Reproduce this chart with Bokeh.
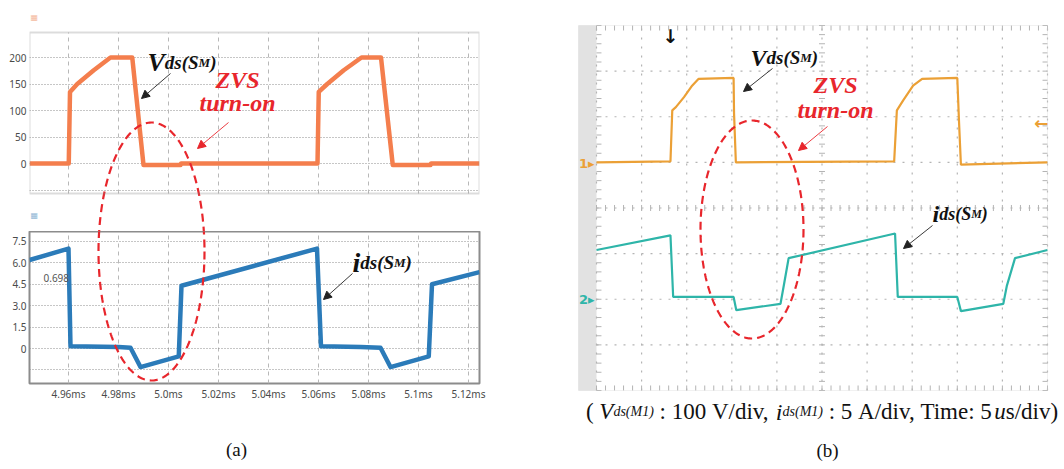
import numpy as np
from bokeh.plotting import figure
from bokeh.layouts import row, column
from bokeh.models import Range1d, FixedTicker, Label, Arrow, NormalHead, BoxAnnotation
from bokeh.embed import file_html
from bokeh.resources import INLINE

# ---------------- data: (a) simulation ----------------
t_vds_a = [4.9444, 4.9601, 4.9606, 4.9635, 4.9701, 4.9768, 4.9855, 4.9900, 5.0048, 5.0050,
           5.0596, 5.0601, 5.0635, 5.0701, 5.0772, 5.0850, 5.0897, 5.1048, 5.1050, 5.1244]
vds_a = [0, 0, 135, 150, 176, 200, 200, -3, -3, 0,
         0, 135, 150, 176, 200, 200, -3, -3, 0, 0]
t_ids_a = [4.9444, 4.9600, 4.9608, 4.9800, 4.9848, 4.9888, 5.0041, 5.0052,
           5.0594, 5.0610, 5.0768, 5.0848, 5.0888, 5.1041, 5.1054, 5.1244]
ids_a = [6.2, 7.0, 0.15, 0.1, 0.05, -1.3, -0.55, 4.4,
         7.0, 0.15, 0.1, 0.05, -1.3, -0.55, 4.5, 5.35]
v_ticks_a = [0, 50, 100, 150, 200]
v_grid_a = [-50, 0, 50, 100, 150, 200]
i_ticks_a = [0, 1.5, 3.0, 4.5, 6.0, 7.5]
i_labels_a = ["0", "1.5", "3.0", "4.5", "6.0", "7.5"]
i_grid_a = [-1.5, 0, 1.5, 3.0, 4.5, 6.0, 7.5]
t_ticks_a = [4.96, 4.98, 5.00, 5.02, 5.04, 5.06, 5.08, 5.10, 5.12]
t_labels_a = ["4.96ms", "4.98ms", "5.0ms", "5.02ms", "5.04ms", "5.06ms", "5.08ms", "5.1ms", "5.12ms"]

# ---------------- data: (b) oscilloscope (us, V, A) ----------------
t_vds_b = [0, 8.2, 8.4, 8.8, 9.7, 10.6, 11.3, 15.2, 15.25, 15.45,
           33.0, 33.3, 34.0, 35.1, 36.1, 40.0, 40.2, 40.4, 50.0]
vds_b = [0, 2, 114, 121, 143, 168, 183, 185, 107, 0,
         2, 114, 136, 168, 183, 185, 85, -5, 0]
t_ids_b = [0, 8.2, 8.5, 15.2, 15.5, 20.4, 20.8, 21.3, 33.1, 33.4, 40.0, 40.4, 45.1, 45.5, 46.4, 50.0]
ids_b = [5.4, 7.0, 0.25, 0.25, -1.2, -0.5, 1.7, 4.5, 7.2, 0.25, 0.25, -1.3, -0.5, 1.5, 4.5, 5.4]
div_t_b = [0, 5, 10, 15, 20, 25, 30, 35, 40, 45, 50]
div_v_b = [-400, -300, -200, -100, 0, 100, 200]

ORANGE_A = "#F47E4D"
BLUE_A = "#2B7BB9"
ORANGE_B = "#EBA036"
TEAL_B = "#2EB5A9"
RED = "#E8262C"
SERIF = "Liberation Serif"
SANS = "Noto Sans"
NB = "\u00a0"

# reference-pixel -> data helpers (for annotations)
def ax_t(px): return 4.96 + (px - 68) / 2500.0
def ay_v(py): return (163 - py) / 0.53
def ay_i(py): return (348 - py) / 14.27
def bx(px): return (px - 596) / 9.02
def by(py): return 300 - (py - 25) / 0.45625
def bi(py): return 30 - (py - 25) / 9.125
def ident(v): return v

BI = {'V': 667, 'd': 500, 's': 389, '(': 333, ')': 333, 'S': 556, 'M': 889, 'i': 278}
IT = {'V': 611, 'd': 500, 's': 389, '(': 333, ')': 333, 'M': 833, '1': 500, 'i': 278, 'u': 500}
RM = {NB: 250, '(': 333, ')': 333, ':': 278, '0': 500, '1': 500, '5': 500, 'V': 722, '/': 278,
      'd': 500, 'i': 278, 'v': 500, ',': 250, 'A': 722, 'T': 611, 'm': 778, 'e': 444, 's': 389, 'u': 500}

def tw(text, size, style):
    table = BI if style == "bold italic" else IT if style == "italic" else RM
    return sum(table.get(c, 500) for c in text) * size / 1000.0

def text_run(p, x_px, base_px, parts, fx, fy, color):
    x = x_px
    for text, size, style in parts:
        text = text.replace(" ", NB)
        p.add_layout(Label(x=fx(x), y=fy(base_px), text=text, text_font=SERIF,
                           text_font_size=f"{size}px", text_font_style=style, text_color=color,
                           text_align="left", text_baseline="alphabetic"))
        x += tw(text, size, style)

def arrow(p, x0, y0, x1, y1, color):
    p.add_layout(Arrow(end=NormalHead(size=8, line_color=color, fill_color=color, line_width=1),
                       x_start=x0, y_start=y0, x_end=x1, y_end=y1, line_color=color, line_width=0.9))

def ellipse_px(cx, cy, a, b):
    th = np.linspace(0, 2 * np.pi, 240)
    return cx + a * np.cos(th), cy + b * np.sin(th)

def base_fig(**kw):
    p = figure(toolbar_location=None, output_backend="svg", **kw)
    p.background_fill_color = "white"
    p.border_fill_color = "white"
    return p

def style_axes(axes):
    for ax in axes:
        ax.axis_line_color = None
        ax.major_tick_line_color = None
        ax.minor_tick_line_color = None
        ax.major_tick_out = 0
        ax.major_label_standoff = 3
        ax.major_label_text_font = SANS
        ax.major_label_text_font_size = "10px"
        ax.major_label_text_color = "#4a4a4a"

# ---------------- (a) top: Vds ----------------
XR = Range1d(ax_t(29), ax_t(479))
A1 = base_fig(width=508, height=231, x_range=XR, y_range=Range1d(ay_v(231), ay_v(0)),
              x_axis_location=None, min_border_left=29, min_border_right=29, min_border_top=0,
              min_border_bottom=0)
A1.outline_line_color = None
A1.xgrid.visible = False
A1.ygrid.ticker = FixedTicker(ticks=v_grid_a)
A1.ygrid.grid_line_color = "#8c8c8c"
A1.ygrid.grid_line_dash = "1 2"
A1.yaxis.ticker = FixedTicker(ticks=v_ticks_a)
style_axes(A1.yaxis)
n = len(t_ticks_a)
A1.segment(x0=t_ticks_a, y0=[ay_v(193)] * n, x1=t_ticks_a, y1=[ay_v(32)] * n,
           line_color="#b8b8b8", line_dash="4 4", line_width=1)
A1.add_layout(BoxAnnotation(left=XR.start, right=XR.end, bottom=ay_v(193), top=ay_v(32),
                            fill_alpha=0, fill_color=None, line_color="#8c8c8c", line_width=2))
A1.line(t_vds_a, vds_a, line_width=4.5, color=ORANGE_A, line_join="round")
ex, ey = ellipse_px(151, 251, 53, 129)
A1.line([ax_t(v) for v in ex], [ay_v(v) for v in ey], line_color=RED, line_width=2.2, line_dash="8 5")
text_run(A1, 147, 62, [("V", 26, "bold italic"), ("ds(S", 19, "bold italic"),
                       ("M", 13, "bold italic"), (")", 19, "bold italic")], ax_t, ay_v, "#111111")
arrow(A1, ax_t(170), ay_v(73), ax_t(141), ay_v(98), "#222222")
A1.add_layout(Label(x=ax_t(237), y=ay_v(92), text="ZVS", text_font=SERIF, text_font_size="24px",
                    text_font_style="bold italic", text_color=RED, text_align="center"))
A1.add_layout(Label(x=ax_t(237), y=ay_v(115), text="turn-on", text_font=SERIF, text_font_size="24px",
                    text_font_style="bold italic", text_color=RED, text_align="center"))
arrow(A1, ax_t(228), ay_v(122), ax_t(197), ay_v(148), RED)
A1.add_layout(Label(x=ax_t(30), y=ay_v(17), text="▦", text_font="DejaVu Sans", text_font_size="8px",
                    text_color="#f4b89c", text_baseline="middle"))
A1.add_layout(Label(x=ax_t(30), y=ay_v(215), text="▦", text_font="DejaVu Sans", text_font_size="8px",
                    text_color="#8fb7d6", text_baseline="middle"))

# ---------------- (a) bottom: ids ----------------
A2 = base_fig(width=508, height=174, x_range=XR, y_range=Range1d(ay_i(383), ay_i(231)),
              min_border_left=29, min_border_right=29, min_border_top=0, min_border_bottom=22)
A2.outline_line_color = "#8c8c8c"
A2.outline_line_width = 2
A2.xgrid.ticker = FixedTicker(ticks=t_ticks_a)
A2.xgrid.grid_line_color = "#b8b8b8"
A2.xgrid.grid_line_dash = "4 4"
A2.ygrid.ticker = FixedTicker(ticks=i_grid_a)
A2.ygrid.grid_line_color = "#8c8c8c"
A2.ygrid.grid_line_dash = "1 2"
A2.yaxis.ticker = FixedTicker(ticks=i_ticks_a)
A2.yaxis.major_label_overrides = dict(zip(i_ticks_a, i_labels_a))
A2.xaxis.ticker = FixedTicker(ticks=t_ticks_a)
A2.xaxis.major_label_overrides = dict(zip(t_ticks_a, t_labels_a))
style_axes(list(A2.yaxis) + list(A2.xaxis))
A2.line(t_ids_a, ids_a, line_width=4.5, color=BLUE_A, line_join="round")
A2.line([ax_t(v) for v in ex], [ay_i(v) for v in ey], line_color=RED, line_width=2.2, line_dash="8 5")
A2.add_layout(Label(x=ax_t(43), y=ay_i(277), text="0.698", text_font=SANS, text_font_size="10px",
                    text_color="#555555", text_baseline="middle"))
text_run(A2, 352, 262, [("i", 28, "bold italic"), ("ds(S", 19, "bold italic"),
                        ("M", 13, "bold italic"), (")", 19, "bold italic")], ax_t, ay_i, "#111111")
arrow(A2, ax_t(352), ay_i(273), ax_t(323), ay_i(299), "#222222")

# caption strip under (a)  (frame aligned with the panels above: 29..479)
CA = base_fig(width=508, height=64, x_range=Range1d(29, 479), y_range=Range1d(469, 405),
              x_axis_location=None, y_axis_location=None,
              min_border_left=29, min_border_right=29, min_border_top=0, min_border_bottom=0)
CA.outline_line_color = None
CA.xgrid.visible = False
CA.ygrid.visible = False
CA.add_layout(Label(x=236, y=459, text="(a)", text_font=SERIF, text_font_size="19px",
                    text_color="#111111", text_align="center"))

# ---------------- (b) oscilloscope: one figure whose frame is the whole right half ----------------
B = base_fig(width=556, height=469, x_range=Range1d(bx(508), bx(1064)), y_range=Range1d(by(469), by(0)),
             x_axis_location=None, y_axis_location=None, min_border_left=0, min_border_right=0,
             min_border_top=0, min_border_bottom=0)
B.extra_y_ranges = {"i": Range1d(bi(469), bi(0))}
B.outline_line_color = None
B.xgrid.visible = False
B.ygrid.visible = False
grid_c = "#b4b4b4"
B.quad(left=[bx(578)], right=[0], bottom=[-500], top=[300], fill_color="#e2e2e2", line_color=None)
B.segment(x0=div_t_b, y0=-500, x1=div_t_b, y1=300, line_color=grid_c, line_dash="2 7", line_width=1.2)
B.segment(x0=0, y0=div_v_b, x1=50, y1=div_v_b, line_color=grid_c, line_dash="2 7", line_width=1.2)
us_minor = np.arange(0, 50.01, 1.0)
v_minor = np.arange(-500, 300.1, 20)
B.segment(x0=us_minor, y0=-100 - 6.6, x1=us_minor, y1=-100 + 6.6, line_color=grid_c)
B.segment(x0=us_minor, y0=-500, x1=us_minor, y1=-500 + 11, line_color=grid_c)
B.segment(x0=us_minor, y0=300 - 11, x1=us_minor, y1=300, line_color=grid_c)
B.segment(x0=25 - 0.33, y0=v_minor, x1=25 + 0.33, y1=v_minor, line_color=grid_c)
B.segment(x0=0, y0=v_minor, x1=0.55, y1=v_minor, line_color=grid_c)
B.segment(x0=50 - 0.55, y0=v_minor, x1=50, y1=v_minor, line_color=grid_c)
B.add_layout(BoxAnnotation(left=bx(578), right=50, bottom=-500, top=300, fill_alpha=0, fill_color=None,
                           line_color="#cfcfcf", line_width=1))
B.line(t_vds_b, vds_b, line_width=2.2, color=ORANGE_B)
B.line(t_ids_b, ids_b, line_width=2.2, color=TEAL_B, y_range_name="i")
bex, bey = ellipse_px(751.5, 229, 51.5, 109)
B.line([bx(v) for v in bex], [by(v) for v in bey], line_color=RED, line_width=2.2, line_dash="8 5")
B.add_layout(Label(x=bx(578.5), y=by(163), text="1▸", text_font="DejaVu Sans", text_font_size="13px",
                   text_font_style="bold", text_color=ORANGE_B, text_baseline="middle"))
B.add_layout(Label(x=bx(578.5), y=by(299), text="2▸", text_font="DejaVu Sans", text_font_size="13px",
                   text_font_style="bold", text_color=TEAL_B, text_baseline="middle"))
B.add_layout(Label(x=bx(670), y=by(24), text="↓", text_font="DejaVu Sans", text_font_size="19px",
                   text_font_style="bold", text_color="#111111", text_align="center", text_baseline="top"))
B.add_layout(Label(x=bx(1048), y=by(122), text="←", text_font="DejaVu Sans", text_font_size="17px",
                   text_font_style="bold", text_color=ORANGE_B, text_align="right", text_baseline="middle"))
text_run(B, 750, 57, [("V", 24, "bold italic"), ("ds(S", 19, "bold italic"),
                      ("M", 13, "bold italic"), (")", 19, "bold italic")], bx, by, "#111111")
arrow(B, bx(772), by(68), bx(743), by(91), "#222222")
B.add_layout(Label(x=bx(835), y=by(97), text="ZVS", text_font=SERIF, text_font_size="24px",
                   text_font_style="bold italic", text_color=RED, text_align="center"))
B.add_layout(Label(x=bx(835), y=by(122), text="turn-on", text_font=SERIF, text_font_size="24px",
                   text_font_style="bold italic", text_color=RED, text_align="center"))
arrow(B, bx(827), by(126), bx(798), by(150), RED)
text_run(B, 932, 213, [("i", 24, "bold italic"), ("ds(S", 18, "bold italic"),
                       ("M", 12, "bold italic"), (")", 18, "bold italic")], bx, by, "#111111")
arrow(B, bx(932), by(225), bx(903), by(248), "#222222")

cap = [("( ", 23, "normal"), ("V", 23, "italic"), ("ds(M1)", 14, "italic"),
       (" : 100 V/div, ", 23, "normal"), ("i", 24, "italic"), ("ds(M1)", 14, "italic"),
       (" : 5 A/div, Time: 5", 23, "normal"), ("u", 23, "italic"), ("s/div)", 23, "normal")]
W = sum(tw(t.replace(" ", NB), s, st) for t, s, st in cap)
x0 = min(821.5 - W / 2, 1062 - W)
text_run(B, x0, 411, cap, bx, by, "#111111")
B.add_layout(Label(x=bx(827), y=by(460), text="(b)", text_font=SERIF, text_font_size="19px",
                   text_color="#111111", text_align="center"))

layout = row(column(A1, A2, CA), B)
open("out.html", "w").write(file_html(layout, INLINE))
